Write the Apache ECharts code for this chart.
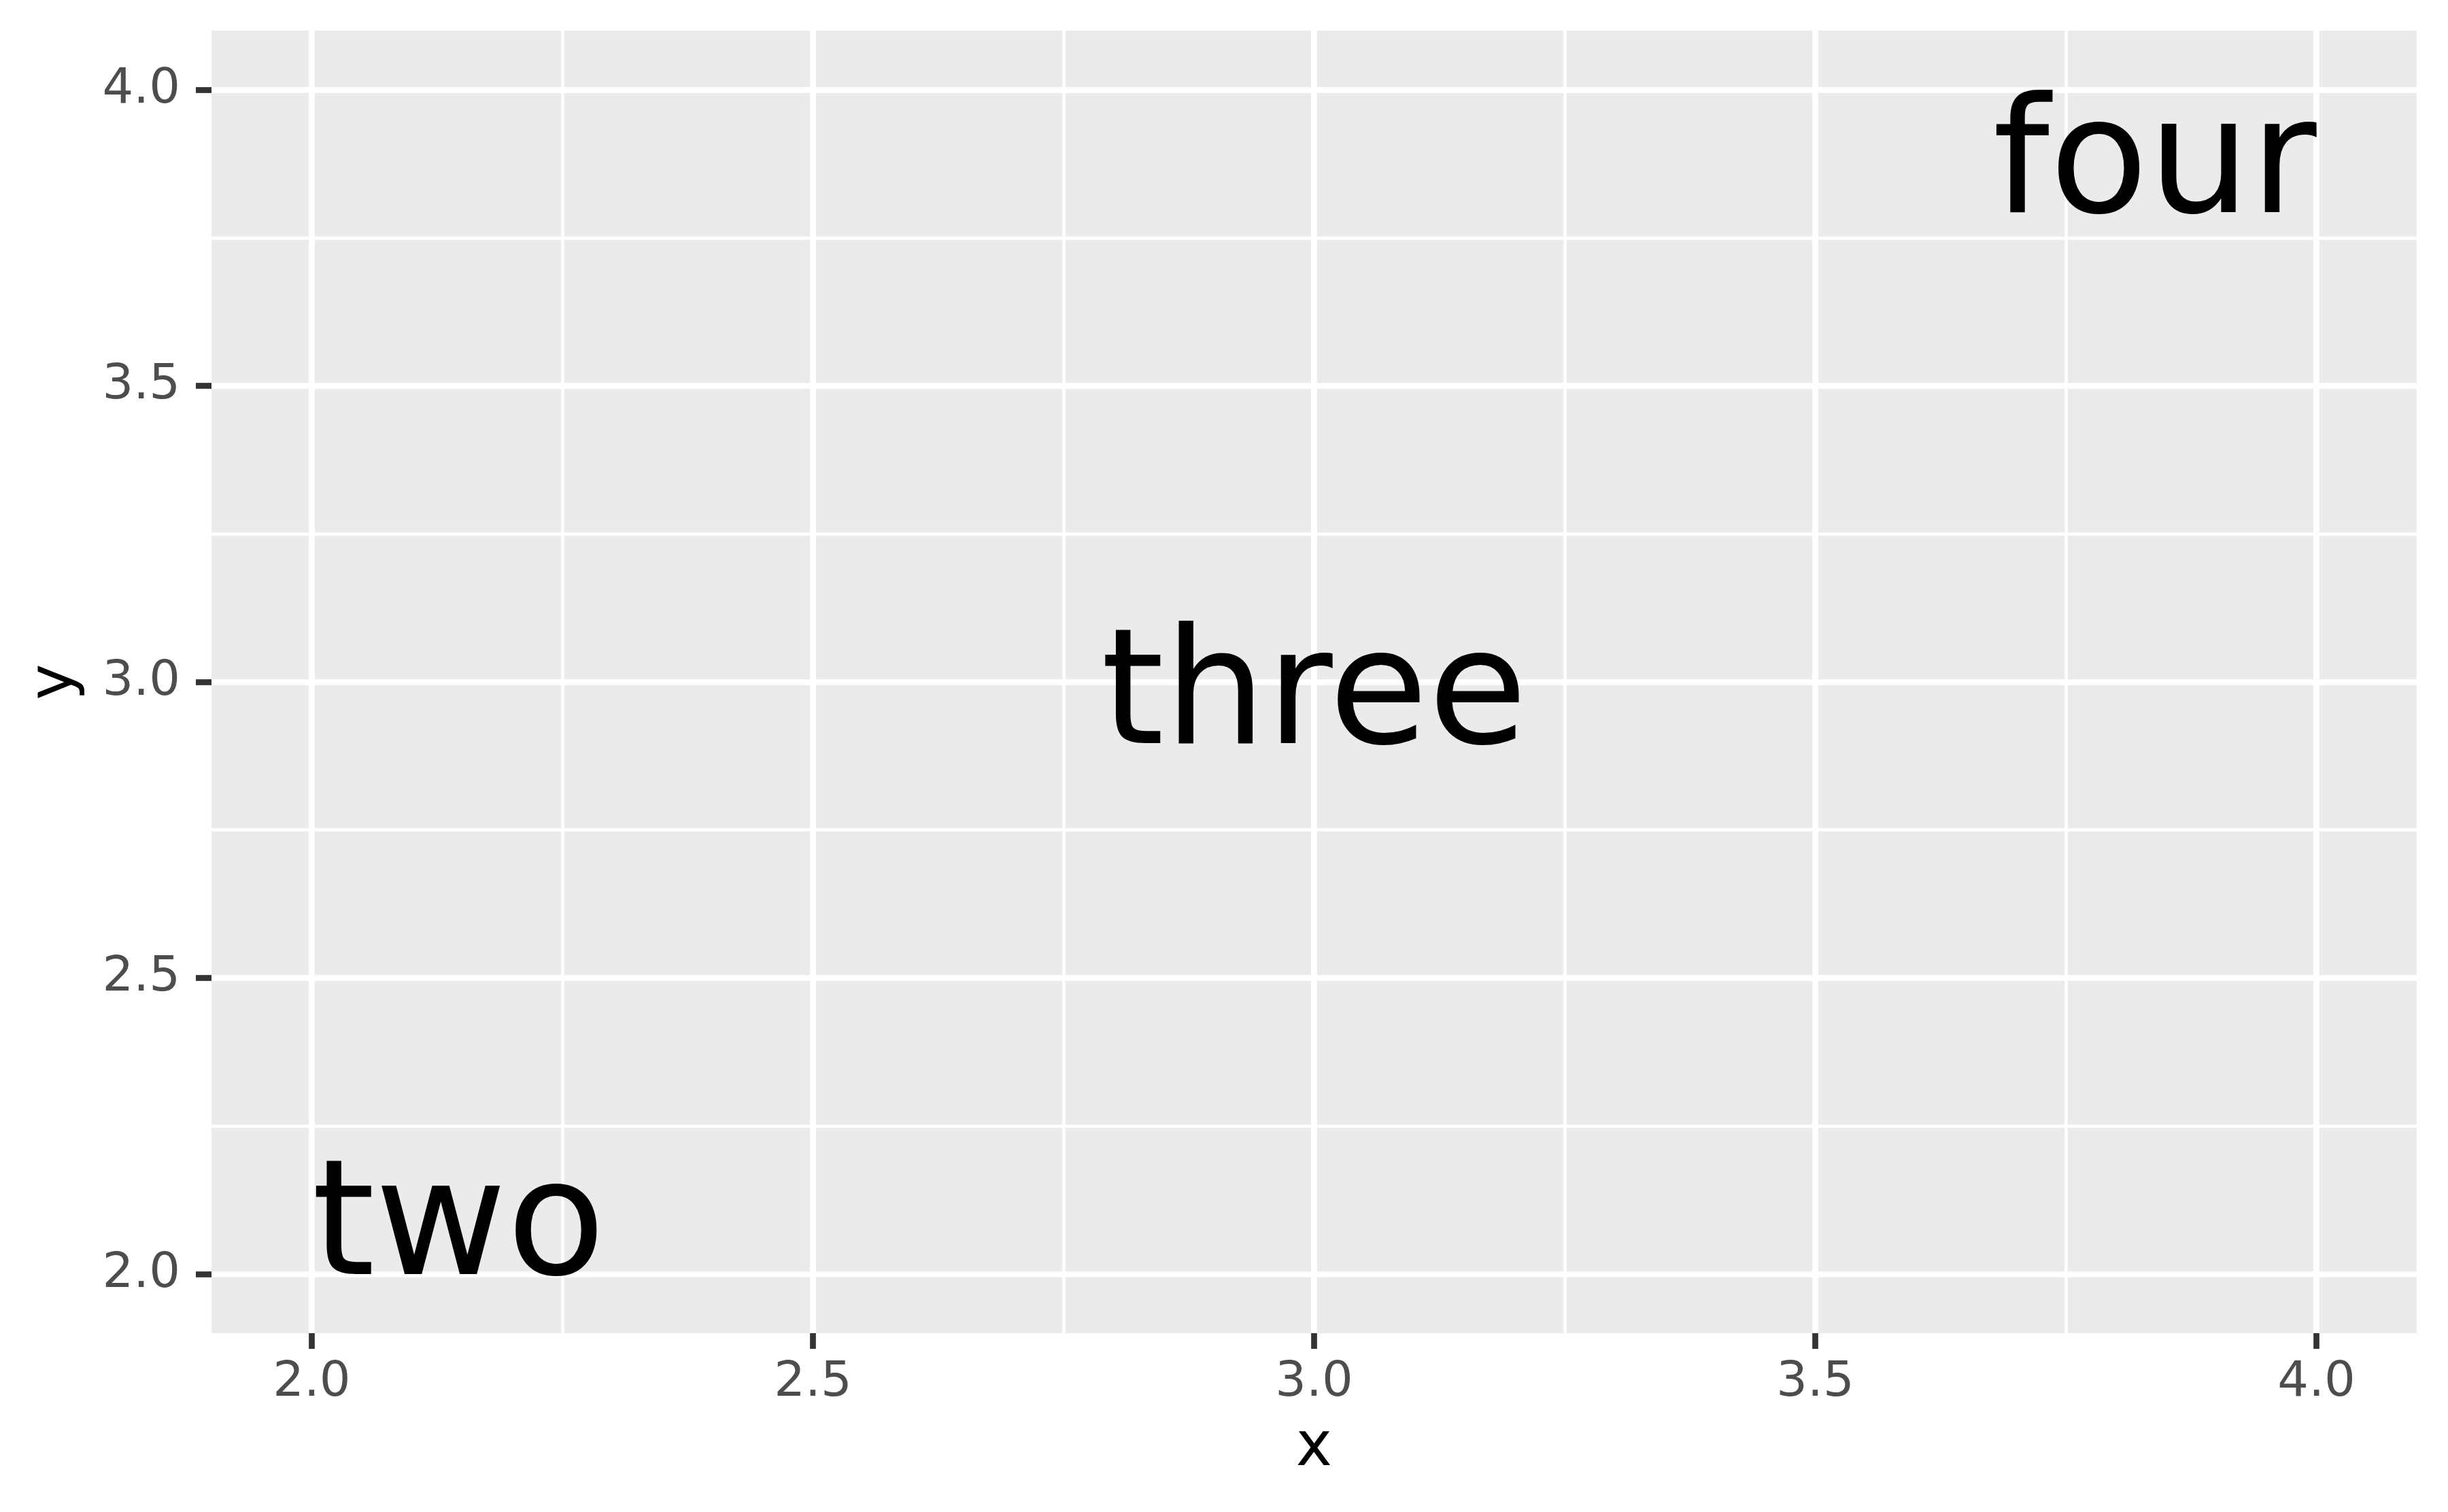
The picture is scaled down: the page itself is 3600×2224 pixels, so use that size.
<!DOCTYPE html>
<html>
<head>
<meta charset="utf-8">
<script src="https://cdn.jsdelivr.net/npm/echarts@6.0.0/dist/echarts.min.js"></script>
<style>
    html, body { margin: 0; padding: 0; background: #ffffff; }
    #main { width: 3600px; height: 2224px; }
</style>
</head>
<body>
<div id="main"></div>
<script>
// data
var xs = [2, 3, 4];
var ys = [2, 3, 4];
var words = ['two', 'three', 'four'];

// scales
var xLimits = [1.9, 4.1];
var yLimits = [1.9, 4.1];
var xBreaks = [2.0, 2.5, 3.0, 3.5, 4.0];
var yBreaks = [2.0, 2.5, 3.0, 3.5, 4.0];
var xMinorBreaks = [2.25, 2.75, 3.25, 3.75];
var yMinorBreaks = [2.25, 2.75, 3.25, 3.75];

// text justification of each label, like hjust / vjust
var hjust = [0, 0.5, 1];
var vjust = [0, 0.5, 1];

var FONT = 'DejaVu Sans';
var LABEL_SIZE = 237;

function fmt(v) {
    return v.toFixed(1);
}

var myChart = echarts.init(document.getElementById('main'));

var option = {
    animation: false,
    backgroundColor: '#ffffff',
    grid: {
        left: 311,
        right: 46,
        top: 45,
        bottom: 263,
        show: true,
        backgroundColor: '#EBEBEB',
        borderWidth: 0,
        containLabel: false,
        outerBoundsMode: 'none'
    },
    xAxis: [
        {
            type: 'value',
            min: xLimits[0],
            max: xLimits[1],
            position: 'bottom',
            axisLine: { show: false },
            axisTick: {
                show: true,
                customValues: xBreaks,
                length: 23,
                lineStyle: { color: '#333333', width: 8.7 }
            },
            axisLabel: {
                customValues: xBreaks,
                formatter: fmt,
                color: '#4D4D4D',
                fontSize: 72,
                fontFamily: FONT,
                margin: 37
            },
            splitLine: { show: true, lineStyle: { color: '#ffffff', width: 8.7 } },
            name: 'x',
            nameLocation: 'middle',
            nameGap: 126,
            nameTextStyle: { fontSize: 90, color: '#000000', fontFamily: FONT }
        },
        {
            // minor grid lines
            type: 'value',
            min: xLimits[0],
            max: xLimits[1],
            position: 'bottom',
            axisLine: { show: false },
            axisTick: { show: false, customValues: xMinorBreaks },
            axisLabel: { show: false },
            splitLine: { show: true, lineStyle: { color: '#ffffff', width: 4.5 } }
        }
    ],
    yAxis: [
        {
            type: 'value',
            min: yLimits[0],
            max: yLimits[1],
            position: 'left',
            axisLine: { show: false },
            axisTick: {
                show: true,
                customValues: yBreaks,
                length: 23,
                lineStyle: { color: '#333333', width: 8.7 }
            },
            axisLabel: {
                customValues: yBreaks,
                formatter: fmt,
                color: '#4D4D4D',
                fontSize: 72,
                fontFamily: FONT,
                margin: 46
            },
            splitLine: { show: true, lineStyle: { color: '#ffffff', width: 8.7 } },
            name: 'y',
            nameLocation: 'middle',
            nameGap: 184,
            nameTextStyle: { fontSize: 90, color: '#000000', fontFamily: FONT }
        },
        {
            type: 'value',
            min: yLimits[0],
            max: yLimits[1],
            position: 'left',
            axisLine: { show: false },
            axisTick: { show: false, customValues: yMinorBreaks },
            axisLabel: { show: false },
            splitLine: { show: true, lineStyle: { color: '#ffffff', width: 4.5 } }
        }
    ],
    series: [
        {
            type: 'custom',
            xAxisIndex: 0,
            yAxisIndex: 0,
            data: xs.map(function (x, i) { return [x, ys[i]]; }),
            renderItem: function (params, api) {
                var i = params.dataIndex;
                var p = api.coord([api.value(0), api.value(1)]);
                var align = hjust[i] === 0 ? 'left' : (hjust[i] === 1 ? 'right' : 'center');
                // canvas 'middle' sits 0.26em above the baseline, ascenders reach 0.76em
                var dy = (0.76 * vjust[i] - 0.26) * LABEL_SIZE;
                return {
                    type: 'text',
                    x: p[0],
                    y: p[1] + dy,
                    style: {
                        text: words[i],
                        fontSize: LABEL_SIZE,
                        fontFamily: FONT,
                        fill: '#000000',
                        align: align,
                        verticalAlign: 'middle'
                    }
                };
            }
        }
    ]
};

myChart.setOption(option);
</script>
</body>
</html>
